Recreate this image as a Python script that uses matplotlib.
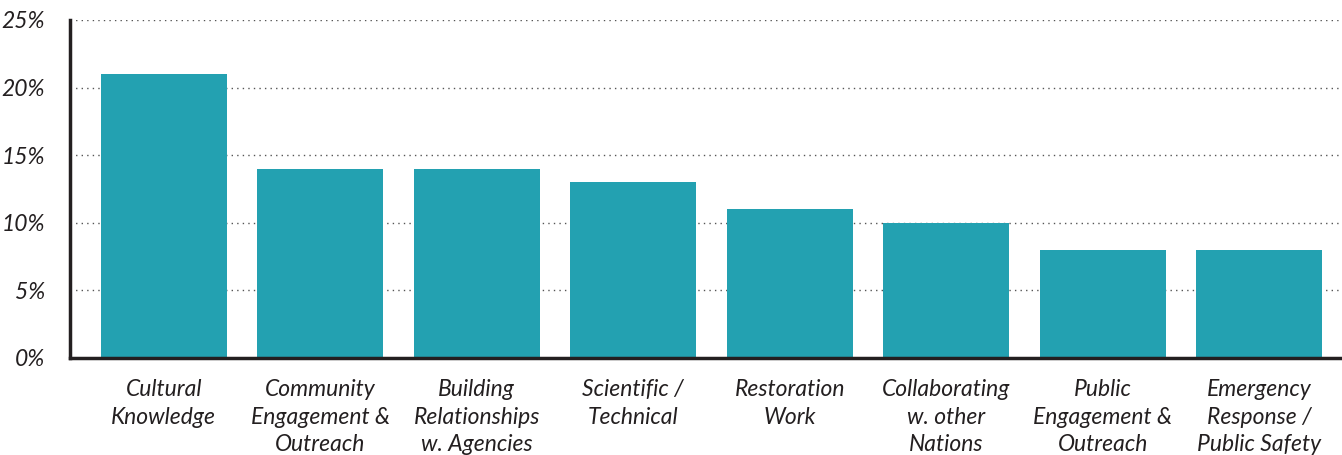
import matplotlib
matplotlib.use("Agg")
import matplotlib.pyplot as plt
from matplotlib.ticker import FuncFormatter

categories = ["Cultural\nKnowledge", "Community\nEngagement &\nOutreach",
              "Building\nRelationships\nw. Agencies", "Scientific /\nTechnical",
              "Restoration\nWork", "Collaborating\nw. other\nNations",
              "Public\nEngagement &\nOutreach", "Emergency\nResponse /\nPublic Safety"]
values = [21, 14, 14, 13, 11, 10, 8, 8]
yticks = [0, 5, 10, 15, 20, 25]

plt.rcParams['font.family'] = ['Lato', 'DejaVu Sans']

fig = plt.figure(figsize=(13.42, 4.55), dpi=100)
ax = fig.add_axes([70/1342, 1-358/455, 1-70/1342, (358-20)/455])

x = range(len(values))
ax.bar(x, values, width=0.805, color='#23a1b1', zorder=2)

ax.set_xlim(-0.6, 7.53)
ax.set_ylim(0, 25)
ax.set_yticks(yticks)
ax.yaxis.set_major_formatter(FuncFormatter(lambda v, p: '%d%%' % v))
ax.grid(axis='y', linestyle=(0, (1, 3)), color='#555555', linewidth=1, zorder=0)

ax.set_xticks(list(x))
ax.set_xticklabels(categories, fontsize=16.5, style='italic', color='#231f20',
                   linespacing=1.4, va='top')
for lab in ax.get_yticklabels():
    lab.set_fontsize(16.5)
    lab.set_style('italic')
    lab.set_color('#231f20')
ax.tick_params(axis='x', length=0, pad=15)
ax.tick_params(axis='y', length=0, pad=18)

for s in ['top', 'right']:
    ax.spines[s].set_visible(False)
for s in ['left', 'bottom']:
    ax.spines[s].set_color('#231f20')
    ax.spines[s].set_linewidth(2.5)

fig.savefig('out.png', dpi=100)
